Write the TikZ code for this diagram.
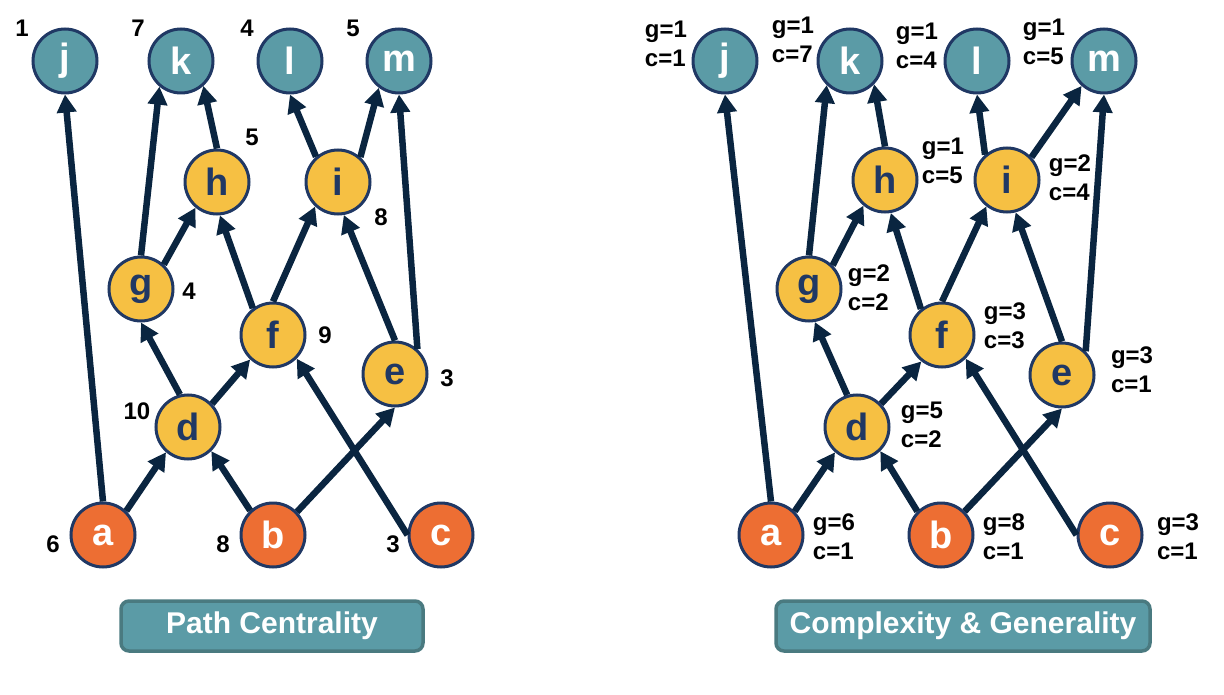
\documentclass[tikz,border=0pt]{standalone}
\usepackage{fontspec}
\setmainfont{Liberation Sans}
\usetikzlibrary{arrows.meta, positioning, shapes}
\definecolor{tealfill}{RGB}{91,155,166}
\definecolor{tealedge}{RGB}{74,122,128}
\definecolor{navy}{RGB}{32,56,100}
\definecolor{gold}{RGB}{246,192,67}
\definecolor{tangerine}{RGB}{237,110,51}
\definecolor{ink}{RGB}{10,37,64}

\begin{document}
\begin{tikzpicture}[
    x=1pt, y=-1pt,
    sink/.style={circle, draw=navy, line width=3pt, fill=tealfill, minimum size=64pt, inner sep=0pt, text=white, font=\bfseries\fontsize{38}{38}\selectfont},
    inner/.style={sink, fill=gold, text=navy},
    source/.style={sink, fill=tangerine},
    score/.style={inner sep=0pt, align=left, font=\bfseries\fontsize{24}{29}\selectfont},
    caption/.style={rectangle, rounded corners=8pt, draw=tealedge, line width=3.5pt, fill=tealfill, minimum height=50pt, text=white, font=\bfseries\fontsize{30}{30}\selectfont},
    arrow/.style={-{Triangle[length=18pt, width=19pt]}, line width=6.5pt, color=ink}
]
\useasboundingbox (0,0) rectangle (1224,695);

% left graph: path centrality
\node[sink] (Lj) at (65,61) {j};
\node[sink] (Lk) at (181,61) {k};
\node[sink] (Ll) at (290,61) {l};
\node[sink] (Lm) at (399,61) {m};
\node[inner] (Lh) at (217,182) {h};
\node[inner] (Li) at (338,182) {i};
\node[inner] (Lg) at (141,289) {g};
\node[inner] (Lf) at (273,335) {f};
\node[inner] (Le) at (395,374) {e};
\node[inner] (Ld) at (188,427) {d};
\node[source] (La) at (103,535) {a};
\node[source] (Lb) at (273,535) {b};
\node[source] (Lc) at (441,535) {c};

\node[score] (Ljs) at (22,28) {1};
\node[score] (Lks) at (138,28) {7};
\node[score] (Lls) at (247,28) {4};
\node[score] (Lms) at (353,28) {5};
\node[score] (Lhs) at (252,137) {5};
\node[score] (Lis) at (381,217) {8};
\node[score] (Lgs) at (189,291) {4};
\node[score] (Lfs) at (325,335) {9};
\node[score] (Les) at (447,378) {3};
\node[score] (Lds) at (137,411) {10};
\node[score] (Las) at (53,544) {6};
\node[score] (Lbs) at (223,544) {8};
\node[score] (Lcs) at (393,544) {3};

\draw[arrow] (La.north) -- (Lj.south);
\draw[arrow] (La.46) -- (Ld.-131);
\draw[arrow] (Lb.133) -- (Ld.-46);
\draw[arrow] (Lb.44) -- (Le.south);
\draw[arrow] (Lc.west) -- (Lf.-45);
\draw[arrow] (Ld.104) -- (Lg.south);
\draw[arrow] (Ld.44) -- (Lf.-133);
\draw[arrow] (Lg.north) -- (Lk.-130);
\draw[arrow] (Lg.47) -- (Lh.-130);
\draw[arrow] (Lf.127) -- (Lh.-85);
\draw[arrow] (Lf.north) -- (Li.-133);
\draw[arrow] (Le.north) -- (Li.-80);
\draw[arrow] (Le.48) -- (Lm.south);
\draw[arrow] (Lh.north) -- (Lk.-48);
\draw[arrow] (Li.131) -- (Ll.south);
\draw[arrow] (Li.48) -- (Lm.-127);

\node[caption, minimum width=302pt] (Lcap) at (272,626) {Path Centrality};

% right graph: complexity and generality
\node[sink] (Rj) at (725,61) {j};
\node[sink] (Rk) at (850,61) {k};
\node[sink] (Rl) at (977,61) {l};
\node[sink] (Rm) at (1104,61) {m};
\node[inner] (Rh) at (885,180) {h};
\node[inner] (Ri) at (1007,180) {i};
\node[inner] (Rg) at (809,289) {g};
\node[inner] (Rf) at (942,335) {f};
\node[inner] (Re) at (1062,375) {e};
\node[inner] (Rd) at (857,427) {d};
\node[source] (Ra) at (771,535) {a};
\node[source] (Rb) at (941,535) {b};
\node[source] (Rc) at (1110,535) {c};

\node[score] (Rjs) at (666,44) {g=1\\c=1};
\node[score] (Rks) at (793,40) {g=1\\c=7};
\node[score] (Rls) at (917,46) {g=1\\c=4};
\node[score] (Rms) at (1044,42) {g=1\\c=5};
\node[score] (Rhs) at (943,161) {g=1\\c=5};
\node[score] (Ris) at (1070,178) {g=2\\c=4};
\node[score] (Rgs) at (869,288) {g=2\\c=2};
\node[score] (Rfs) at (1005,326) {g=3\\c=3};
\node[score] (Res) at (1132,370) {g=3\\c=1};
\node[score] (Rds) at (922,425) {g=5\\c=2};
\node[score] (Ras) at (834,537) {g=6\\c=1};
\node[score] (Rbs) at (1004,537) {g=8\\c=1};
\node[score] (Rcs) at (1178,537) {g=3\\c=1};

\draw[arrow] (Ra.north) -- (Rj.south);
\draw[arrow] (Ra.45) -- (Rd.-131);
\draw[arrow] (Rb.135) -- (Rd.-46);
\draw[arrow] (Rb.45) -- (Re.south);
\draw[arrow] (Rc.west) -- (Rf.-45);
\draw[arrow] (Rd.107) -- (Rg.-80);
\draw[arrow] (Rd.44) -- (Rf.-128);
\draw[arrow] (Rg.north) -- (Rk.-134);
\draw[arrow] (Rg.45) -- (Rh.-130);
\draw[arrow] (Rf.129) -- (Rh.-80);
\draw[arrow] (Rf.north) -- (Ri.-128);
\draw[arrow] (Re.north) -- (Ri.-75);
\draw[arrow] (Re.45) -- (Rm.south);
\draw[arrow] (Rh.north) -- (Rk.-44);
\draw[arrow] (Ri.131) -- (Rl.south);
\draw[arrow] (Ri.43) -- (Rm.-132);

\node[caption, minimum width=374pt] (Rcap) at (963,626) {Complexity \& Generality};
\end{tikzpicture}
\end{document}
